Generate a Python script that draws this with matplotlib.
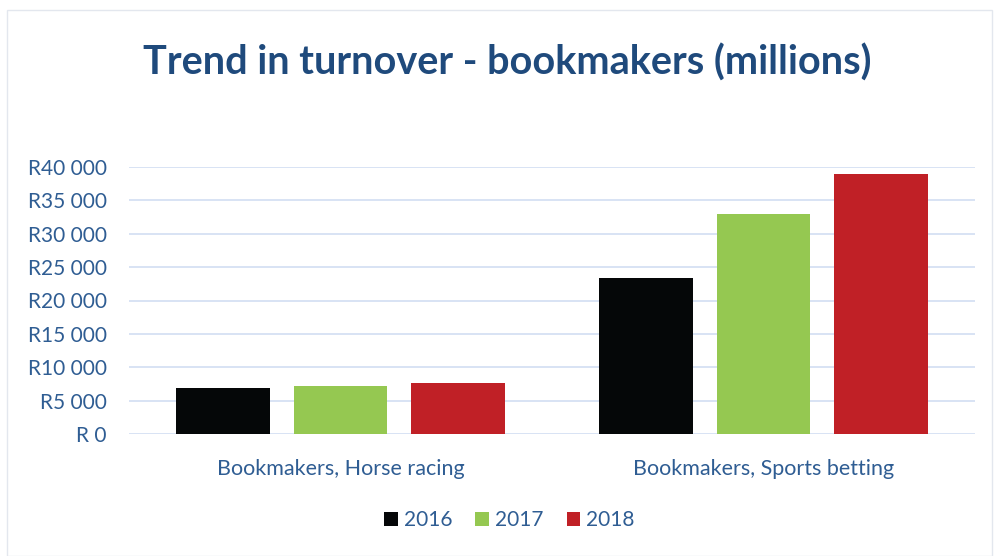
import matplotlib
matplotlib.use("Agg")
import matplotlib.pyplot as plt
import numpy as np
from matplotlib.patches import Rectangle

categories = ["Bookmakers, Horse racing", "Bookmakers, Sports betting"]
years = ["2016", "2017", "2018"]
turnover = {
    "2016": [6850, 23400],
    "2017": [7200, 33000],
    "2018": [7600, 38900],
}
colors = ["#050708", "#95C851", "#C02026"]
yticks = [0, 5000, 10000, 15000, 20000, 25000, 30000, 35000, 40000]

text_blue = "#2F5D93"
title_blue = "#1F4A7C"
grid_blue = "#D6E0F3"

plt.rcParams["font.family"] = ["Lato", "DejaVu Sans"]

fig = plt.figure(figsize=(9.95, 5.56), dpi=100)
fig.patches.append(Rectangle((0.007, 0.0), 0.99, 0.982, transform=fig.transFigure,
                             fill=False, edgecolor="#E3E7EE", linewidth=1.0))

ax = fig.add_axes([129 / 995, 1 - 434 / 556, 846 / 995, 267 / 556])

x = np.arange(len(categories))
width = 0.222
step = width + 0.056
for i, (yr, col) in enumerate(zip(years, colors)):
    ax.bar(x + (i - 1) * step, turnover[yr], width, color=col, label=yr, zorder=3)

ax.set_xlim(-0.5, 1.5)
ax.set_ylim(0, 40000)
ax.set_yticks(yticks)
ax.set_yticklabels(["R " + "0" if v == 0 else "R" + f"{v:,}".replace(",", " ") for v in yticks])
ax.set_xticks(x)
ax.set_xticklabels(categories)
ax.tick_params(axis="both", length=0, colors=text_blue)
ax.tick_params(axis="y", pad=16, labelsize=15)
ax.tick_params(axis="x", pad=18, labelsize=15.5)
ax.grid(axis="y", color=grid_blue, linewidth=1.3, zorder=0)
for s in ax.spines.values():
    s.set_visible(False)

fig.text(0.51, 0.888, "Trend in turnover - bookmakers (millions)", ha="center", va="center",
         fontsize=28.5, fontweight="bold", color=title_blue)

leg = fig.legend(loc="center", bbox_to_anchor=(0.512, 0.064), ncol=3, frameon=False,
                 fontsize=15, handlelength=0.65, handleheight=0.65, handletextpad=0.3,
                 columnspacing=1.1)
for t in leg.get_texts():
    t.set_color(text_blue)

fig.savefig("out.png", dpi=100)
